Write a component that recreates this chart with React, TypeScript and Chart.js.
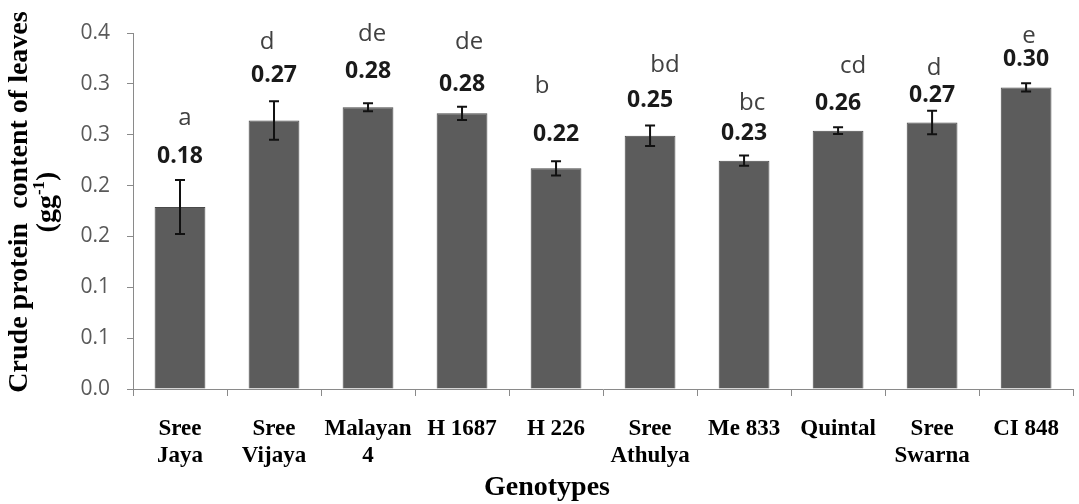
import React, { useEffect, useRef } from "react";
import { Chart, registerables } from "chart.js";

Chart.register(...registerables);

// ---------- data ----------
const genotypes: (string | string[])[] = [
  ["Sree", "Jaya"],
  ["Sree", "Vijaya"],
  ["Malayan", "4"],
  "H 1687",
  "H 226",
  ["Sree", "Athulya"],
  "Me 833",
  "Quintal",
  ["Sree", "Swarna"],
  "CI 848",
];
const crudeProtein = [0.179, 0.264, 0.277, 0.271, 0.217, 0.249, 0.2245, 0.254, 0.262, 0.2965];
const stdError = [0.0265, 0.019, 0.004, 0.0065, 0.007, 0.01, 0.005, 0.0033, 0.0115, 0.004];
const valueLabels = ["0.18", "0.27", "0.28", "0.28", "0.22", "0.25", "0.23", "0.26", "0.27", "0.30"];
const significanceLetters = ["a", "d", "de", "de", "b", "bd", "bc", "cd", "d", "e"];
const yTickLabels = ["0.0", "0.1", "0.1", "0.2", "0.2", "0.3", "0.3", "0.4"];

// ---------- layout (pixel nudges for annotations) ----------
const valueDy = [-24, -26, -32, -22, -27, -25, -22, -24, -15, -24];
const letterDx = [5, -7, 4, 7, -14, 15, 8, 15, 2, 3];
const letterDy = [-38, -33, -37, -43, -48, -35, -30, -37, -28, -23];

const SERIF = '"Liberation Serif", "Times New Roman", serif';
const SANS = '"Open Sans", "Noto Sans", sans-serif';

const annotationPlugin = {
  id: "annotations",
  afterDatasetsDraw(chart: any) {
    const ctx = chart.ctx;
    const meta = chart.getDatasetMeta(0);
    const y = chart.scales.y;
    ctx.save();
    meta.data.forEach((bar: any, i: number) => {
      const x = bar.x;
      const yTop = y.getPixelForValue(crudeProtein[i] + stdError[i]);
      const yBot = y.getPixelForValue(crudeProtein[i] - stdError[i]);
      ctx.strokeStyle = "#111";
      ctx.lineWidth = 2;
      ctx.beginPath();
      ctx.moveTo(x, yTop);
      ctx.lineTo(x, yBot);
      ctx.moveTo(x - 5, yTop);
      ctx.lineTo(x + 5, yTop);
      ctx.moveTo(x - 5, yBot);
      ctx.lineTo(x + 5, yBot);
      ctx.stroke();

      const vy = yTop + valueDy[i];
      ctx.textAlign = "center";
      ctx.textBaseline = "middle";
      ctx.fillStyle = "#1a1a1a";
      ctx.font = `bold 23px ${SANS}`;
      ctx.fillText(valueLabels[i], x, vy);

      ctx.fillStyle = "#404040";
      ctx.font = `24px ${SANS}`;
      ctx.fillText(significanceLetters[i], x + letterDx[i], vy + letterDy[i]);
    });
    ctx.restore();
  },
  afterDraw(chart: any) {
    const ctx = chart.ctx;
    ctx.save();
    ctx.fillStyle = "#000";
    // x-axis title
    ctx.font = `bold 28px ${SERIF}`;
    ctx.textAlign = "center";
    ctx.textBaseline = "alphabetic";
    ctx.fillText("Genotypes", 547, 495);

    // y-axis title (rotated)
    ctx.save();
    ctx.translate(27, 202);
    ctx.rotate(-Math.PI / 2);
    ctx.font = `bold 28px ${SERIF}`;
    ctx.textAlign = "center";
    ctx.textBaseline = "alphabetic";
    ctx.fillText("Crude protein  content of leaves", 0, 0);
    // second line "(gg-1)" with superscript
    const main1 = "(gg";
    const sup = "-1";
    const main2 = ")";
    ctx.font = `bold 28px ${SERIF}`;
    const w1 = ctx.measureText(main1).width;
    const w3 = ctx.measureText(main2).width;
    ctx.font = `bold 17px ${SERIF}`;
    const w2 = ctx.measureText(sup).width;
    const total = w1 + w2 + w3;
    let sx = -total / 2;
    ctx.textAlign = "left";
    ctx.font = `bold 28px ${SERIF}`;
    ctx.fillText(main1, sx, 28);
    sx += w1;
    ctx.font = `bold 17px ${SERIF}`;
    ctx.fillText(sup, sx, 17);
    sx += w2;
    ctx.font = `bold 28px ${SERIF}`;
    ctx.fillText(main2, sx, 28);
    ctx.restore();
    ctx.restore();
  },
};

export default function App() {
  const canvasRef = useRef<HTMLCanvasElement>(null);

  useEffect(() => {
    if (!canvasRef.current) return;
    const chart = new Chart(canvasRef.current, {
      type: "bar",
      data: {
        labels: genotypes as any,
        datasets: [
          {
            data: crudeProtein,
            backgroundColor: "#5c5c5c",
            borderColor: "#4a4a4a",
            borderWidth: 1,
            barPercentage: 0.54,
            categoryPercentage: 1,
          },
        ],
      },
      options: {
        responsive: false,
        animation: false,
        devicePixelRatio: 1,
        layout: { padding: { left: 0, right: 0, top: 33, bottom: 0 } },
        plugins: {
          legend: { display: false },
          tooltip: { enabled: false },
          title: { display: false },
        },
        scales: {
          x: {
            grid: {
              display: true,
              drawOnChartArea: false,
              drawTicks: true,
              tickLength: 7,
              color: "#8a8a8a",
              offset: true,
            },
            border: { display: true, color: "#8a8a8a", width: 1 },
            ticks: {
              color: "#000",
              font: { family: SERIF, size: 23, weight: "bold", lineHeight: 1.15 },
              padding: 20,
              maxRotation: 0,
              minRotation: 0,
              autoSkip: false,
            },
            afterFit(scale: any) {
              scale.height = 115;
            },
          },
          y: {
            min: 0,
            max: 0.35,
            grid: {
              display: true,
              drawOnChartArea: false,
              drawTicks: true,
              tickLength: 6,
              color: "#8a8a8a",
            },
            border: { display: true, color: "#8a8a8a", width: 1 },
            ticks: {
              stepSize: 0.05,
              color: "#595959",
              font: { family: SANS, size: 21 },
              padding: 17,
              callback: (_v: any, index: number) => yTickLabels[index],
            },
            afterFit(scale: any) {
              scale.width = 133;
            },
          },
        },
      },
      plugins: [annotationPlugin],
    });
    return () => chart.destroy();
  }, []);

  return (
    <div style={{ position: "fixed", left: 0, top: 0, width: 1079, height: 504, background: "#fff" }}>
      <canvas ref={canvasRef} width={1079} height={504} style={{ display: "block" }} />
    </div>
  );
}
